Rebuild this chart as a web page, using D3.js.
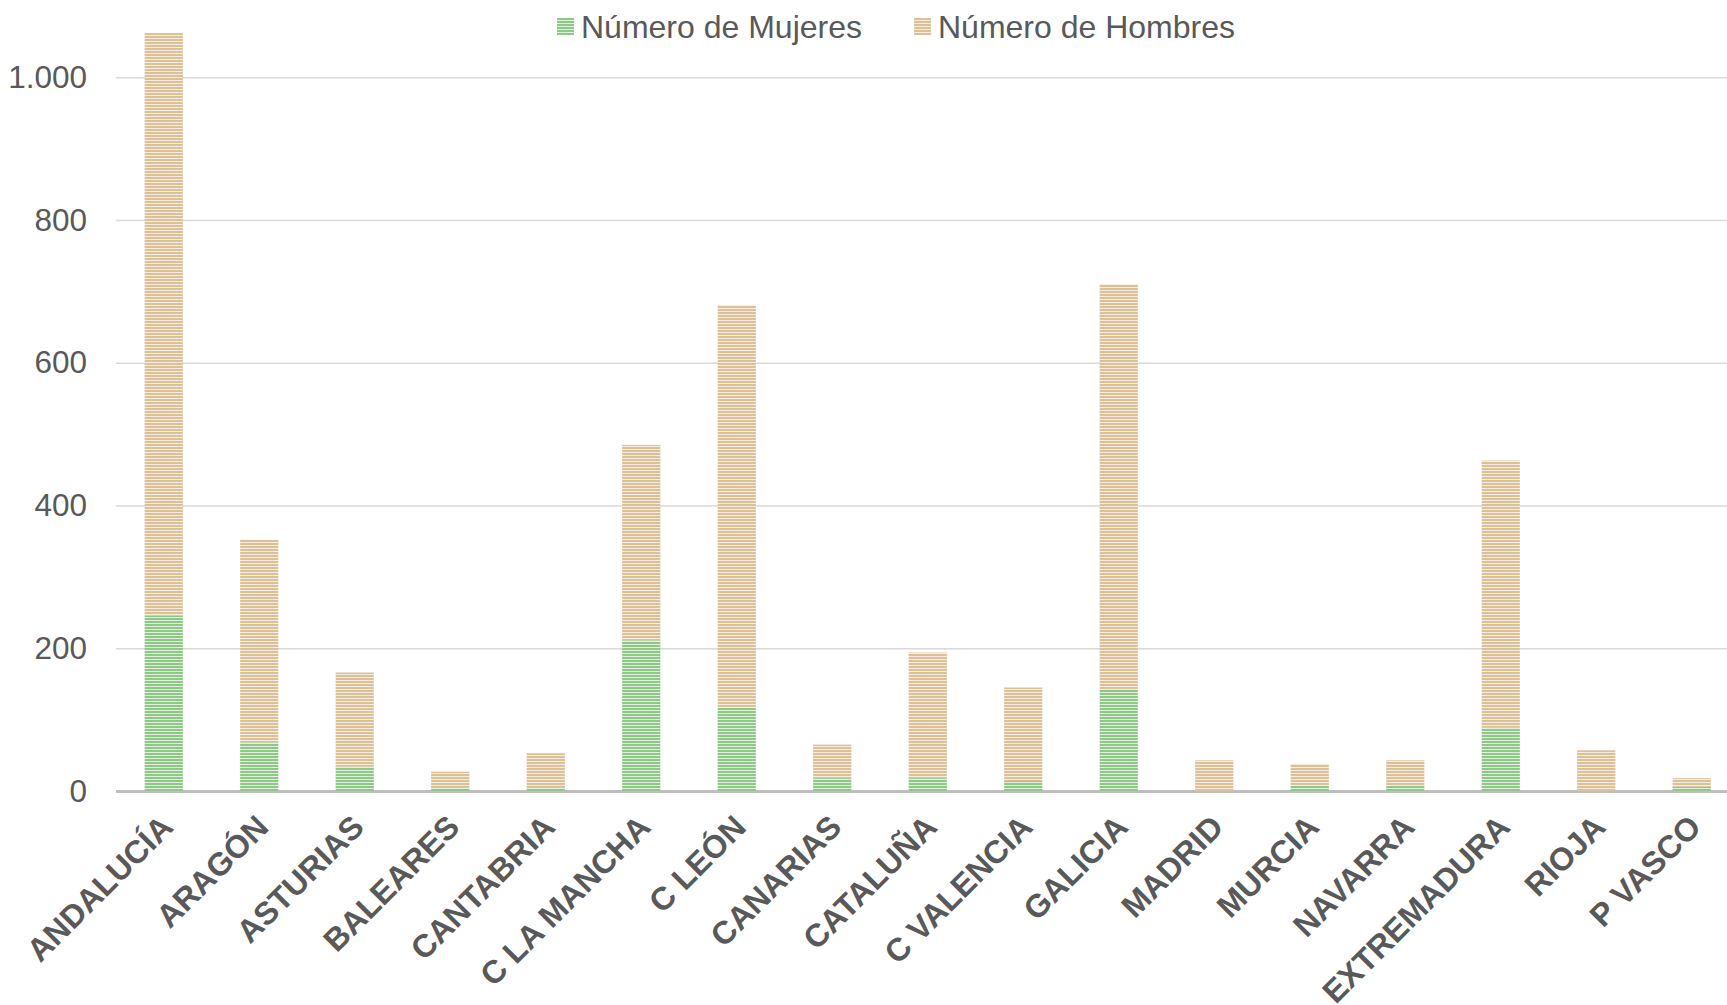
<!DOCTYPE html>
<html>
<head>
<meta charset="utf-8">
<script src="https://cdn.jsdelivr.net/npm/d3@7"></script>
<style>
  body { margin: 0; background: #fff; }
  svg { display: block; font-family: "Liberation Sans", Arial, sans-serif; }
</style>
</head>
<body>
<svg id="chart" width="1727" height="1005"></svg>
<script>
// categories and series
const regions = ["ANDALUCÍA", "ARAGÓN", "ASTURIAS", "BALEARES", "CANTABRIA", "C LA MANCHA", "C LEÓN",
  "CANARIAS", "CATALUÑA", "C VALENCIA", "GALICIA", "MADRID", "MURCIA", "NAVARRA", "EXTREMADURA", "RIOJA", "P VASCO"];
const mujeres = [246, 68, 34, 4, 4, 211, 117, 18, 18, 14, 143, 0, 8, 7, 89, 0, 6];
const hombres = [816, 284, 132, 23, 49, 274, 564, 47, 176, 131, 567, 43, 30, 36, 374, 57, 12];
const yTicks = [0, 200, 400, 600, 800, 1000];
const seriesNames = ["Número de Mujeres", "Número de Hombres"];

const svg = d3.select("#chart");

//Spanish number format: 1.000
const es = d3.formatLocale({ decimal: ",", thousands: ".", grouping: [3], currency: ["", " €"] });
const fmt = es.format(",d");

//stripe patterns for the two series
const patterns = [
  { id: "stripeGreen", dark: "#8ec886", light: "#e2f1de" },
  { id: "stripeTan", dark: "#dcc097", light: "#f6ede0" }
];
const defs = svg.append("defs");
patterns.forEach(p => {
  const pat = defs.append("pattern")
    .attr("id", p.id)
    .attr("patternUnits", "userSpaceOnUse")
    .attr("width", 8).attr("height", 3);
  pat.append("rect").attr("width", 8).attr("height", 3).attr("fill", p.light);
  pat.append("rect").attr("width", 8).attr("height", 2).attr("fill", p.dark);
});

const x = d3.scaleBand()
  .domain(regions)
  .range([116, 1739.5])
  .paddingInner(0.6)
  .paddingOuter(0.3);

const y = d3.scaleLinear()
  .domain([0, 1000])
  .range([791, 77.3]);

//gridlines and y labels
const yAxis = svg.append("g")
  .attr("transform", "translate(116,0)")
  .call(d3.axisLeft(y).tickValues(yTicks).tickSize(-1611).tickFormat(fmt).tickPadding(29));
yAxis.select(".domain").remove();
yAxis.selectAll(".tick line")
  .attr("stroke", d => d === 0 ? "#bfbfbf" : "#d9d9d9")
  .attr("stroke-width", d => d === 0 ? 3 : 1.6);
yAxis.selectAll(".tick text")
  .attr("fill", "#595959")
  .style("font-size", "31.5px");

//stacked bars
const stackData = regions.map((r, i) => ({ region: r, mujeres: mujeres[i], hombres: hombres[i] }));
const stacked = d3.stack().keys(["mujeres", "hombres"])(stackData);

svg.append("g").selectAll("g")
  .data(stacked)
  .join("g")
  .attr("fill", (d, i) => `url(#${patterns[i].id})`)
  .selectAll("rect")
  .data(d => d)
  .join("rect")
  .attr("x", d => x(d.data.region))
  .attr("width", x.bandwidth())
  .attr("y", d => y(d[1]))
  .attr("height", d => y(d[0]) - y(d[1]));

//x labels, rotated
svg.append("g").selectAll("text")
  .data(regions)
  .join("text")
  .attr("transform", d => `translate(${x(d) + x.bandwidth() / 2 + 11},${829}) rotate(-45)`)
  .attr("text-anchor", "end")
  .attr("fill", "#595959")
  .style("font-size", "32px")
  .style("font-weight", "bold")
  .text(d => d);

//legend
const legendX = [557, 914];
const legend = svg.append("g").selectAll("g")
  .data(seriesNames)
  .join("g")
  .attr("transform", (d, i) => `translate(${legendX[i]},18)`);
legend.append("rect")
  .attr("width", 17).attr("height", 17)
  .attr("fill", (d, i) => `url(#${patterns[i].id})`);
legend.append("text")
  .attr("x", 24)
  .attr("y", 20)
  .attr("fill", "#595959")
  .style("font-size", "32px")
  .text(d => d);
</script>
</body>
</html>
